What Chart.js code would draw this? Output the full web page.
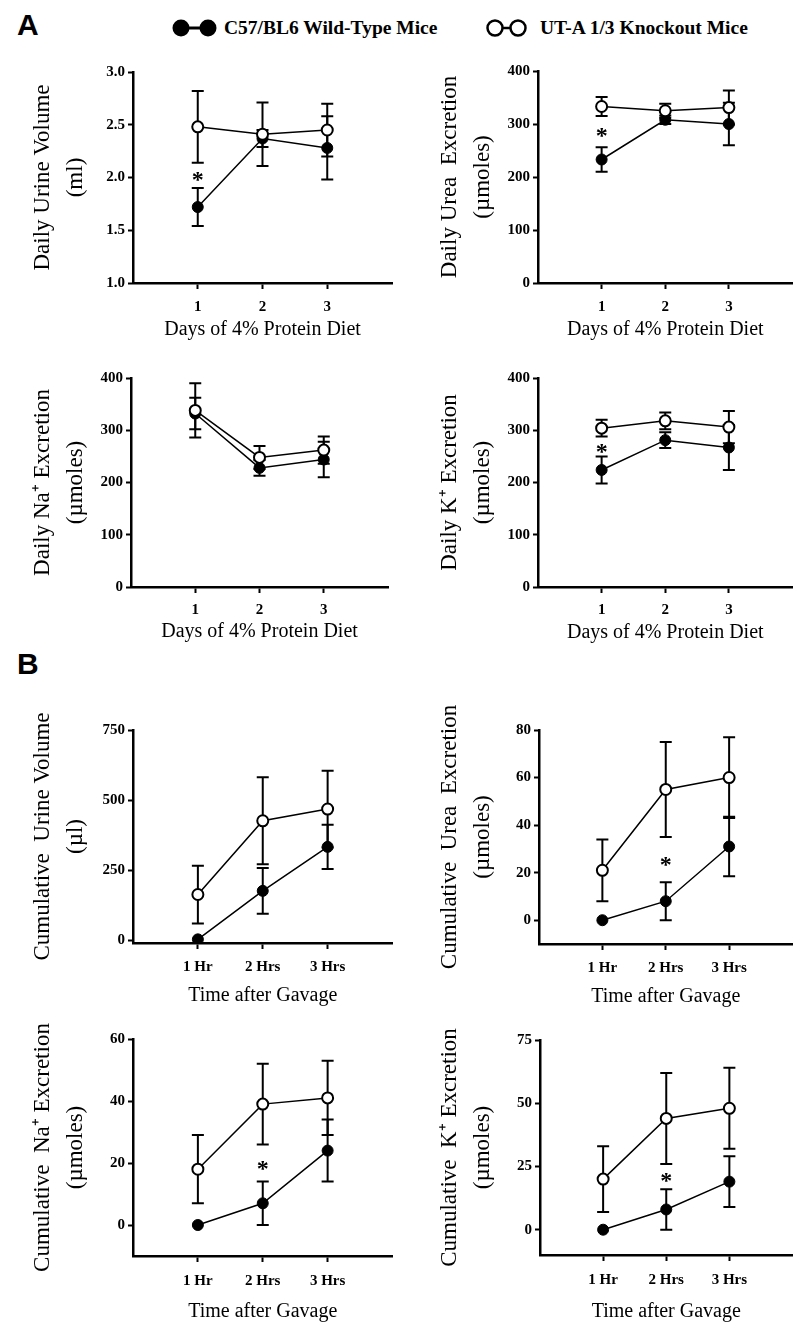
<!DOCTYPE html>
<html lang="en">
<head>
<meta charset="UTF-8">
<title>UT-A 1/3 knockout mice: urine on a 4% protein diet and after gavage</title>
<script src="https://cdn.jsdelivr.net/npm/chart.js"></script>
<style>
    body {
        margin: 0;
        background: #fff;
    }
    #page {
        position: relative;
        width: 800px;
        height: 1326px;
        overflow: hidden;
        font-family: 'Liberation Serif', 'Times New Roman', serif;
        color: #000;
    }
    .panel {
        position: absolute;
    }
    .letter {
        position: absolute;
        font-family: 'Liberation Sans', Arial, sans-serif;
        font-weight: bold;
        font-size: 30px;
        line-height: 30px;
    }
    .legend-text {
        position: absolute;
        font-weight: bold;
        font-size: 19.5px;
        line-height: 20px;
        white-space: nowrap;
    }
    .legend-mark {
        position: absolute;
    }
</style>
</head>
<body>
<div id="page">
    <div class="letter" style="left:17px; top:10px;">A</div>
    <div class="letter" style="left:17px; top:649px;">B</div>

    <svg class="legend-mark" style="left:160px; top:16px;" width="60" height="24">
        <line x1="21" y1="12" x2="48" y2="12" stroke="#000" stroke-width="3"/>
        <circle cx="21" cy="12" r="8.5" fill="#000"/>
        <circle cx="48" cy="12" r="8.5" fill="#000"/>
    </svg>
    <div class="legend-text" style="left:224px; top:18px;">C57/BL6 Wild-Type Mice</div>

    <svg class="legend-mark" style="left:470px; top:16px;" width="60" height="24">
        <line x1="25" y1="12" x2="48" y2="12" stroke="#000" stroke-width="2.5"/>
        <circle cx="25" cy="12" r="7.5" fill="#fff" stroke="#000" stroke-width="2.5"/>
        <circle cx="48" cy="12" r="7.5" fill="#fff" stroke="#000" stroke-width="2.5"/>
    </svg>
    <div class="legend-text" style="left:540px; top:18px;">UT-A 1/3 Knockout Mice</div>
</div>

<script>
    // x categories
    const dayLabels = ['1', '2', '3'];
    const hourLabels = ['1 Hr', '2 Hrs', '3 Hrs'];

    // A: daily values over 3 days of 4% protein diet (mean, sem)
    const wtUrineVolume = [1.72, 2.37, 2.28];
    const wtUrineVolumeSem = [0.18, 0.08, 0.30];
    const koUrineVolume = [2.48, 2.41, 2.45];
    const koUrineVolumeSem = [0.34, 0.30, 0.25];
    const urineVolumeTicks = [1.0, 1.5, 2.0, 2.5, 3.0];
    const urineVolumeStars = [[1, 2.02]];

    const wtUrea = [233, 308, 300];
    const wtUreaSem = [23, 8, 40];
    const koUrea = [333, 325, 331];
    const koUreaSem = [18, 13, 32];
    const ureaTicks = [0, 100, 200, 300, 400];
    const ureaStars = [[1, 285]];

    const wtNa = [332, 228, 244];
    const wtNaSem = [30, 15, 34];
    const koNa = [338, 248, 262];
    const koNaSem = [52, 22, 26];
    const naTicks = [0, 100, 200, 300, 400];

    const wtK = [224, 281, 267];
    const wtKSem = [26, 15, 43];
    const koK = [304, 318, 306];
    const koKSem = [16, 16, 31];
    const kTicks = [0, 100, 200, 300, 400];
    const kStars = [[1, 266]];

    // B: cumulative values after gavage (mean, sem)
    const wtCumVolume = [3, 176, 333];
    const wtCumVolumeSem = [0, 82, 79];
    const koCumVolume = [163, 426, 468];
    const koCumVolumeSem = [103, 155, 137];
    const cumVolumeTicks = [0, 250, 500, 750];

    const wtCumUrea = [0, 8, 31];
    const wtCumUreaSem = [0, 8, 12.5];
    const koCumUrea = [21, 55, 60];
    const koCumUreaSem = [13, 20, 17];
    const cumUreaTicks = [0, 20, 40, 60, 80];
    const cumUreaStars = [[2, 25]];

    const wtCumNa = [0, 7, 24];
    const wtCumNaSem = [0, 7, 10];
    const koCumNa = [18, 39, 41];
    const koCumNaSem = [11, 13, 12];
    const cumNaTicks = [0, 20, 40, 60];
    const cumNaStars = [[2, 19.5]];

    const wtCumK = [0, 8, 19];
    const wtCumKSem = [0, 8, 10];
    const koCumK = [20, 44, 48];
    const koCumKSem = [13, 18, 16];
    const cumKTicks = [0, 25, 50, 75];
    const cumKStars = [[2, 21]];

    const SERIF = "'Liberation Serif', 'Times New Roman', serif";

    // layout of each panel (pixels on the page)
    const panels = [
        { left: 0, axisX: 133, plotTop: 72, plotRight: 392, axisY: 283, titleX: 42.5, tickDy: 24, titleDy: 47,
          labels: dayLabels, wt: wtUrineVolume, wtSem: wtUrineVolumeSem, ko: koUrineVolume, koSem: koUrineVolumeSem,
          ticks: urineVolumeTicks, min: 1.0, max: 3.0, decimals: 1, stars: urineVolumeStars,
          yTitle: ['Daily Urine Volume', '(ml)'], xTitle: 'Days of 4% Protein Diet' },
        { left: 400, axisX: 538, plotTop: 71, plotRight: 797, axisY: 283, titleX: 450, tickDy: 24, titleDy: 47,
          labels: dayLabels, wt: wtUrea, wtSem: wtUreaSem, ko: koUrea, koSem: koUreaSem,
          ticks: ureaTicks, min: 0, max: 400, decimals: 0, stars: ureaStars,
          yTitle: ['Daily Urea  Excretion', '(\u00b5moles)'], xTitle: 'Days of 4% Protein Diet' },
        { left: 0, axisX: 131, plotTop: 378, plotRight: 388, axisY: 587, titleX: 43, tickDy: 23, titleDy: 45,
          labels: dayLabels, wt: wtNa, wtSem: wtNaSem, ko: koNa, koSem: koNaSem,
          ticks: naTicks, min: 0, max: 400, decimals: 0, stars: [],
          yTitle: ['Daily Na\u207a Excretion', '(\u00b5moles)'], xTitle: 'Days of 4% Protein Diet' },
        { left: 400, axisX: 538, plotTop: 378, plotRight: 796, axisY: 587, titleX: 450, tickDy: 23, titleDy: 46,
          labels: dayLabels, wt: wtK, wtSem: wtKSem, ko: koK, koSem: koKSem,
          ticks: kTicks, min: 0, max: 400, decimals: 0, stars: kStars,
          yTitle: ['Daily K\u207a Excretion', '(\u00b5moles)'], xTitle: 'Days of 4% Protein Diet' },
        { left: 0, axisX: 133, plotTop: 730, plotRight: 393, axisY: 943, titleX: 43, tickDy: 24, titleDy: 53,
          labels: hourLabels, wt: wtCumVolume, wtSem: wtCumVolumeSem, ko: koCumVolume, koSem: koCumVolumeSem,
          ticks: cumVolumeTicks, min: -10, max: 750, decimals: 0, stars: [],
          yTitle: ['Cumulative  Urine Volume', '(\u00b5l)'], xTitle: 'Time after Gavage' },
        { left: 400, axisX: 539, plotTop: 730, plotRight: 797, axisY: 944, titleX: 450, tickDy: 24, titleDy: 53,
          labels: hourLabels, wt: wtCumUrea, wtSem: wtCumUreaSem, ko: koCumUrea, koSem: koCumUreaSem,
          ticks: cumUreaTicks, min: -10, max: 80, decimals: 0, stars: cumUreaStars,
          yTitle: ['Cumulative  Urea  Excretion', '(\u00b5moles)'], xTitle: 'Time after Gavage' },
        { left: 0, axisX: 133, plotTop: 1039, plotRight: 393, axisY: 1256, titleX: 43, tickDy: 25, titleDy: 56,
          labels: hourLabels, wt: wtCumNa, wtSem: wtCumNaSem, ko: koCumNa, koSem: koCumNaSem,
          ticks: cumNaTicks, min: -10, max: 60, decimals: 0, stars: cumNaStars,
          yTitle: ['Cumulative  Na\u207a Excretion', '(\u00b5moles)'], xTitle: 'Time after Gavage' },
        { left: 400, axisX: 540, plotTop: 1040, plotRight: 797, axisY: 1255, titleX: 450, tickDy: 25, titleDy: 57,
          labels: hourLabels, wt: wtCumK, wtSem: wtCumKSem, ko: koCumK, koSem: koCumKSem,
          ticks: cumKTicks, min: -10, max: 75, decimals: 0, stars: cumKStars,
          yTitle: ['Cumulative  K\u207a Excretion', '(\u00b5moles)'], xTitle: 'Time after Gavage' }
    ];

    // error bars under the markers, asterisks and the two-line y title on top
    const extras = {
        id: 'extras',
        beforeDatasetsDraw(chart) {
            const { ctx, scales: { x, y } } = chart;
            ctx.save();
            ctx.strokeStyle = '#000';
            ctx.lineWidth = 2;
            chart.data.datasets.forEach(ds => {
                ds.data.forEach((pt, i) => {
                    const e = ds.sem[i];
                    if (!e) return;
                    const px = x.getPixelForValue(pt.x);
                    const hi = y.getPixelForValue(pt.y + e);
                    const lo = y.getPixelForValue(pt.y - e);
                    ctx.beginPath();
                    ctx.moveTo(px, hi); ctx.lineTo(px, lo);
                    ctx.moveTo(px - 6, hi); ctx.lineTo(px + 6, hi);
                    ctx.moveTo(px - 6, lo); ctx.lineTo(px + 6, lo);
                    ctx.stroke();
                });
            });
            ctx.restore();
        },
        afterDraw(chart, args, opts) {
            const { ctx, scales: { x, y }, chartArea } = chart;
            ctx.save();
            ctx.fillStyle = '#000';
            ctx.font = 'bold 24px ' + SERIF;
            ctx.textAlign = 'center';
            ctx.textBaseline = 'middle';
            opts.stars.forEach(s => {
                ctx.fillText('*', x.getPixelForValue(s[0]), y.getPixelForValue(s[1]) + 5);
            });

            const midY = (chartArea.top + chartArea.bottom) / 2;
            ctx.font = '23px ' + SERIF;
            opts.titleLines.forEach((line, i) => {
                ctx.save();
                ctx.translate(opts.titleX + i * 33, midY);
                ctx.rotate(-Math.PI / 2);
                ctx.fillText(line, 0, 0);
                ctx.restore();
            });
            ctx.restore();
        }
    };

    const page = document.getElementById('page');

    panels.forEach(p => {
        const padTop = 45;
        const xh = p.titleDy + 14;
        const cTop = p.plotTop - padTop;
        const cH = p.axisY + xh - cTop;

        const wrap = document.createElement('div');
        wrap.className = 'panel';
        wrap.style.left = p.left + 'px';
        wrap.style.top = cTop + 'px';
        const canvas = document.createElement('canvas');
        canvas.width = 400;
        canvas.height = cH;
        wrap.appendChild(canvas);
        page.appendChild(wrap);

        const tickFont = { family: SERIF, size: 15, weight: 'bold', lineHeight: 1.2 };
        const toPoints = vals => vals.map((v, i) => ({ x: i + 1, y: v }));

        new Chart(canvas, {
            type: 'scatter',
            data: {
                datasets: [
                    {
                        label: 'UT-A 1/3 Knockout Mice',
                        data: toPoints(p.ko),
                        sem: p.koSem,
                        showLine: true,
                        borderColor: '#000',
                        borderWidth: 1.5,
                        pointRadius: 5.5,
                        pointBorderWidth: 2,
                        pointBackgroundColor: '#fff',
                        pointBorderColor: '#000'
                    },
                    {
                        label: 'C57/BL6 Wild-Type Mice',
                        data: toPoints(p.wt),
                        sem: p.wtSem,
                        showLine: true,
                        borderColor: '#000',
                        borderWidth: 1.5,
                        pointRadius: 5.5,
                        pointBorderWidth: 1,
                        pointBackgroundColor: '#000',
                        pointBorderColor: '#000'
                    }
                ]
            },
            options: {
                responsive: false,
                maintainAspectRatio: false,
                animation: false,
                events: [],
                layout: { padding: { top: padTop, right: p.left + 400 - p.plotRight, left: 0, bottom: 0 } },
                plugins: {
                    legend: { display: false },
                    tooltip: { enabled: false },
                    extras: { stars: p.stars, titleLines: p.yTitle, titleX: p.titleX - p.left }
                },
                scales: {
                    x: {
                        type: 'linear',
                        min: 0,
                        max: 4,
                        afterBuildTicks: s => { s.ticks = p.labels.map((l, i) => ({ value: i + 1 })); },
                        afterFit: s => { s.height = xh; },
                        ticks: {
                            callback: v => p.labels[v - 1],
                            autoSkip: false,
                            maxRotation: 0,
                            color: '#000',
                            font: tickFont,
                            padding: p.tickDy - 6 - 9
                        },
                        grid: { drawOnChartArea: false, drawTicks: true, tickLength: 6, tickWidth: 2, tickColor: '#000' },
                        border: { display: true, color: '#000', width: 2.5 },
                        title: {
                            display: true,
                            text: p.xTitle,
                            color: '#000',
                            font: { family: SERIF, size: 20, lineHeight: 1.2 },
                            padding: { top: 0, bottom: 2 }
                        }
                    },
                    y: {
                        type: 'linear',
                        min: p.min,
                        max: p.max,
                        afterBuildTicks: s => { s.ticks = p.ticks.map(v => ({ value: v })); },
                        afterFit: s => { s.width = p.axisX - p.left; },
                        ticks: {
                            callback: v => v.toFixed(p.decimals),
                            color: '#000',
                            font: tickFont,
                            padding: 3
                        },
                        grid: { drawOnChartArea: false, drawTicks: true, tickLength: 5, tickWidth: 2, tickColor: '#000' },
                        border: { display: true, color: '#000', width: 2.5 }
                    }
                }
            },
            plugins: [extras]
        });
    });
</script>
</body>
</html>
